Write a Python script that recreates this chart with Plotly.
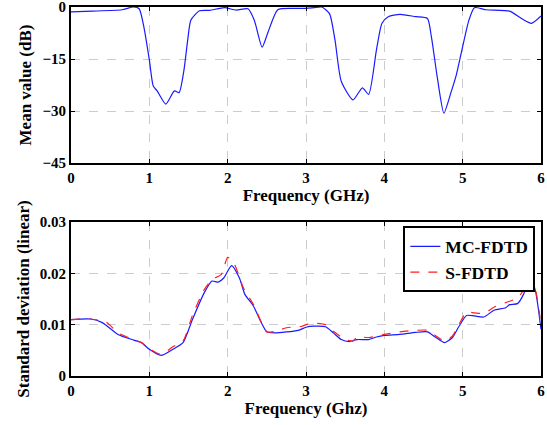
import plotly.graph_objects as go
from plotly.subplots import make_subplots

# Top: mean value (dB)
f_mean = [0.0, 0.27, 0.65, 0.8, 0.87, 0.93, 1.0, 1.05, 1.1, 1.21, 1.32, 1.38, 1.44, 1.49, 1.53, 1.64, 1.77,
          1.96, 2.11, 2.26, 2.34, 2.44, 2.51, 2.64, 2.83, 3.0, 3.1, 3.2, 3.3, 3.37, 3.45, 3.6, 3.72, 3.8,
          3.9, 3.97, 4.05, 4.2, 4.4, 4.55, 4.6, 4.68, 4.76, 4.85, 4.92, 5.0, 5.08, 5.15, 5.3, 5.6, 5.75,
          5.88, 6.0]
mean_db = [-1.4, -1.2, -0.8, 0.0, -0.5, -5.7, -15.2, -22.8, -24.2, -28.0, -24.2, -24.7, -18.5, -9.5, -3.8,
           -1.1, -0.95, -0.2, -0.9, -0.5, -3.8, -11.6, -7.6, -0.8, -0.4, -0.4, -0.2, 0.0, -1.9, -9.5, -21.4,
           -26.8, -23.3, -25.2, -12.3, -4.7, -2.8, -2.1, -2.8, -3.3, -8.5, -20.9, -30.6, -24.7, -19.5, -11.4,
           -3.8, -0.2, -0.8, -1.2, -3.3, -4.7, -2.6]

# Bottom: standard deviation (linear)
f_std_mc = [0.0, 0.25, 0.4, 0.6, 0.8, 0.9, 1.0, 1.15, 1.3, 1.43, 1.55, 1.7, 1.8, 1.88, 1.95, 2.05, 2.15,
            2.22, 2.33, 2.42, 2.5, 2.6, 2.9, 3.0, 3.1, 3.25, 3.35, 3.45, 3.55, 3.65, 3.8, 3.9, 4.0, 4.2,
            4.4, 4.55, 4.65, 4.77, 4.87, 4.95, 5.05, 5.15, 5.27, 5.4, 5.55, 5.6, 5.7, 5.78, 5.86, 5.93, 6.0]
std_mc = [0.0110, 0.0111, 0.0104, 0.0081, 0.0070, 0.0065, 0.0052, 0.0040, 0.0052, 0.0065, 0.0110, 0.0162,
          0.0185, 0.0183, 0.0191, 0.0215, 0.0191, 0.0159, 0.0136, 0.0107, 0.0086, 0.0084, 0.0089, 0.0095,
          0.0097, 0.0096, 0.0084, 0.0071, 0.0067, 0.0071, 0.0071, 0.0076, 0.0079, 0.0081, 0.0085, 0.0086,
          0.0076, 0.0065, 0.0075, 0.0096, 0.0118, 0.0117, 0.0115, 0.0128, 0.0133, 0.0139, 0.0141, 0.0160,
          0.0194, 0.0165, 0.0091]

f_std_s = [0.0, 0.25, 0.45, 0.6, 0.75, 0.9, 1.0, 1.15, 1.3, 1.43, 1.55, 1.7, 1.8, 1.92, 2.0, 2.08, 2.2,
           2.33, 2.5, 2.6, 2.75, 2.95, 3.0, 3.1, 3.25, 3.35, 3.5, 3.6, 3.65, 3.8, 4.0, 4.2, 4.4, 4.55, 4.65,
           4.77, 4.87, 4.95, 5.05, 5.15, 5.27, 5.4, 5.55, 5.7, 5.78, 5.86, 5.93, 6.0]
std_s = [0.0110, 0.0111, 0.0105, 0.0084, 0.0074, 0.0065, 0.0053, 0.0042, 0.0057, 0.0068, 0.0118, 0.0168,
         0.0188, 0.0198, 0.0231, 0.0220, 0.0172, 0.0139, 0.0086, 0.0087, 0.0094, 0.0097, 0.0100, 0.0103,
         0.0100, 0.0087, 0.0071, 0.0068, 0.0076, 0.0075, 0.0081, 0.0086, 0.0089, 0.0089, 0.0079, 0.0068,
         0.0078, 0.0100, 0.0124, 0.0123, 0.0122, 0.0134, 0.0143, 0.0152, 0.0168, 0.0192, 0.0168, 0.0100]

x_ticks = [0, 1, 2, 3, 4, 5, 6]
y1_ticks = [0, -15, -30, -45]
y2_ticks = [0, 0.01, 0.02, 0.03]
y2_labels = ["0", "0.01", "0.02", "0.03"]

FONT = "Liberation Serif, Times New Roman, Times, serif"

fig = make_subplots(rows=2, cols=1, vertical_spacing=0.16)

fig.add_trace(go.Scatter(x=f_mean, y=mean_db, mode="lines", line=dict(color="#1a1aff", width=1.2, shape="spline", smoothing=0.6),
                         showlegend=False), row=1, col=1)
fig.add_trace(go.Scatter(x=f_std_mc, y=std_mc, mode="lines", name="MC-FDTD",
                         line=dict(color="#1a1aff", width=1.2, shape="spline", smoothing=0.6)), row=2, col=1)
fig.add_trace(go.Scatter(x=f_std_s, y=std_s, mode="lines", name="S-FDTD",
                         line=dict(color="#ff2020", width=1.2, dash="dash", shape="spline", smoothing=0.6)), row=2, col=1)

axis_common = dict(showline=True, linecolor="black", linewidth=2, mirror="allticks", ticks="inside",
                   ticklen=4, tickcolor="black", showgrid=True, gridcolor="#cccccc", griddash="dash",
                   gridwidth=1, zeroline=False, automargin=False, ticklabeloverflow="allow",
                   tickfont=dict(family=FONT, size=15, color="black", weight="bold"))

title_font = dict(family=FONT, size=17, color="black", weight="bold")

fig.update_xaxes(**axis_common, range=[0, 6], tickvals=x_ticks)
fig.update_xaxes(title=dict(text="Frequency (GHz)", font=title_font, standoff=2), row=1, col=1)
fig.update_xaxes(title=dict(text="Frequency (Ghz)", font=title_font, standoff=2), row=2, col=1)
fig.update_yaxes(**axis_common)
fig.update_yaxes(range=[-45, 0], tickvals=y1_ticks,
                 title=dict(text="Mean value (dB)", font=title_font, standoff=6),
                 row=1, col=1)
fig.update_yaxes(range=[0, 0.03], tickvals=y2_ticks, ticktext=y2_labels,
                 title=dict(text="Standard deviation (linear)", font=title_font, standoff=6),
                 row=2, col=1)

fig.update_layout(
    width=547, height=425,
    margin=dict(l=71, r=6, t=7, b=49, autoexpand=False),
    plot_bgcolor="white", paper_bgcolor="white",
    xaxis=dict(domain=[0, 1]), yaxis=dict(domain=[0.5772, 1.0]),
    xaxis2=dict(domain=[0, 1]), yaxis2=dict(domain=[0.0, 0.4173]),
    legend=dict(x=0.988, y=0.4173 - 0.012, xanchor="right", yanchor="top", bgcolor="white",
                bordercolor="black", borderwidth=2,
                font=dict(family=FONT, size=17.5, color="black", weight="bold"),
                tracegroupgap=0, itemwidth=30),
    showlegend=True,
)

fig.write_html("out.html", config={"displayModeBar": False},
               post_script="document.body.style.margin='0';document.body.style.overflow='hidden';")
